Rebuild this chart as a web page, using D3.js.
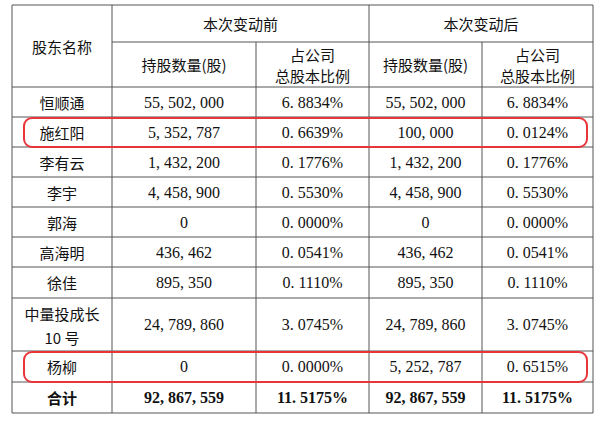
<!DOCTYPE html>
<html lang="zh">
<head>
<meta charset="UTF-8">
<style>
    body { margin: 0; background: #fff; }
    text { font-family: 'Noto Sans CJK SC', sans-serif; fill: #111; }
    .num { font-family: 'Liberation Serif', 'DejaVu Serif', serif; }
</style>
</head>
<body>
<svg id="chart" width="600" height="424"></svg>
<script src="https://d3js.org/d3.v7.min.js"></script>
<script>
    const names = ['恒顺通', '施红阳', '李有云', '李宇', '郭海', '高海明', '徐佳', '中量投成长\n10 号', '杨柳', '合计'];
    const sharesBefore = ['55,502,000', '5,352,787', '1,432,200', '4,458,900', '0', '436,462', '895,350', '24,789,860', '0', '92,867,559'];
    const ratioBefore = ['6.8834%', '0.6639%', '0.1776%', '0.5530%', '0.0000%', '0.0541%', '0.1110%', '3.0745%', '0.0000%', '11.5175%'];
    const sharesAfter = ['55,502,000', '100,000', '1,432,200', '4,458,900', '0', '436,462', '895,350', '24,789,860', '5,252,787', '92,867,559'];
    const ratioAfter = ['6.8834%', '0.0124%', '0.1776%', '0.5530%', '0.0000%', '0.0541%', '0.1110%', '3.0745%', '0.6515%', '11.5175%'];
    const highlighted = ['施红阳', '杨柳'];

    const colEdges = [12, 112, 256, 369, 482, 593];
    const rowHeights = [30, 30, 30, 30, 30, 30, 31, 53, 31, 31];
    const topY = 5, headSplit = 42, headBottom = 87;

    const svg = d3.select('#chart');
    const line = (x1, y1, x2, y2) => svg.append('line')
        .attr('x1', x1).attr('y1', y1).attr('x2', x2).attr('y2', y2)
        .attr('stroke', '#555').attr('stroke-width', 1);

    // row boundaries
    const rowY = [headBottom];
    rowHeights.forEach(h => rowY.push(rowY[rowY.length - 1] + h));
    const bottomY = rowY[rowY.length - 1];

    // grid
    line(colEdges[0], topY, colEdges[5], topY);
    line(colEdges[1], headSplit, colEdges[5], headSplit);
    rowY.forEach(y => line(colEdges[0], y, colEdges[5], y));
    colEdges.forEach((x, i) => line(x, i === 2 || i === 4 ? headSplit : topY, x, bottomY));

    const cx = i => (colEdges[i] + colEdges[i + 1]) / 2;
    const label = (x, y, t, cls, weight) => svg.append('text')
        .attr('x', x).attr('y', y).attr('text-anchor', 'middle')
        .attr('dominant-baseline', 'central').attr('font-size', 15)
        .attr('class', cls || null).attr('font-weight', weight || 400).text(t);

    // header
    label(cx(0), (topY + headBottom) / 2, '股东名称');
    label((colEdges[1] + colEdges[3]) / 2, (topY + headSplit) / 2, '本次变动前');
    label((colEdges[3] + colEdges[5]) / 2, (topY + headSplit) / 2, '本次变动后');
    [1, 3].forEach(c => {
        label(cx(c), (headSplit + headBottom) / 2, '持股数量(股)');
        label(cx(c + 1), headSplit + 12, '占公司');
        label(cx(c + 1), headSplit + 33, '总股本比例');
    });

    // body
    names.forEach((n, r) => {
        const yc = (rowY[r] + rowY[r + 1]) / 2;
        const w = n === '合计' ? 700 : 400;
        const parts = n.split('\n');
        if (parts.length > 1) {
            label(cx(0), yc - 11, parts[0]);
            label(cx(0), yc + 13, parts[1]);
        } else {
            label(cx(0), yc, n, null, w);
        }
        [sharesBefore, ratioBefore, sharesAfter, ratioAfter].forEach((arr, c) => {
            label(cx(c + 1), yc, arr[r].replace(/,/g, ', ').replace('.', '. '), 'num', w)
                .attr('xml:space', 'preserve').attr('font-size', 16);
        });
    });

    // red highlight boxes
    highlighted.forEach(n => {
        const r = names.indexOf(n);
        svg.append('rect')
            .attr('x', 24).attr('y', rowY[r] + 1)
            .attr('width', 563).attr('height', rowY[r + 1] - rowY[r] - 1)
            .attr('rx', 8).attr('fill', 'none')
            .attr('stroke', '#e8353a').attr('stroke-width', 2);
    });
</script>
</body>
</html>
